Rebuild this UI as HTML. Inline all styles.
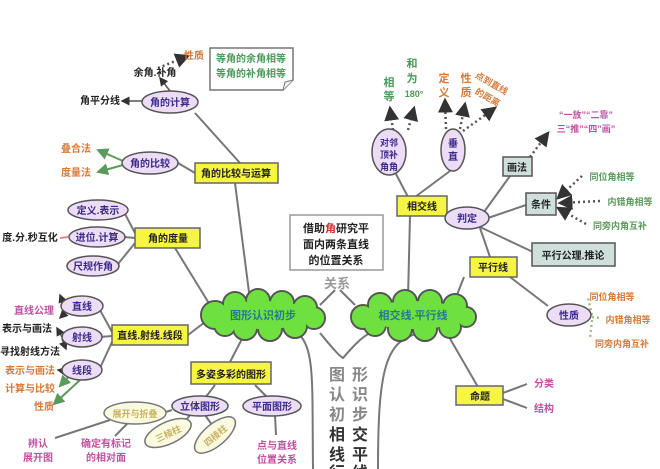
<!DOCTYPE html>
<html><head><meta charset="utf-8"><style>
html,body{margin:0;padding:0;background:#fff;}
svg{display:block;}
text{font-family:"Liberation Sans","Noto Sans CJK SC",sans-serif;font-weight:bold;}
</style></head><body>
<svg width="660" height="469" viewBox="0 0 660 469" xmlns="http://www.w3.org/2000/svg">
<defs>
<marker id="ah" markerWidth="6" markerHeight="6" refX="5" refY="3" orient="auto"><path d="M0,0 L6,3 L0,6z" fill="#333"/></marker>
<marker id="ag" markerWidth="6" markerHeight="6" refX="5" refY="3" orient="auto"><path d="M0,0 L6,3 L0,6z" fill="#5a9a5a"/></marker>
</defs>
<rect width="660" height="469" fill="#fff"/>
<g stroke="#777" stroke-width="2" fill="none">
<!-- left tree lines -->
<line x1="195" y1="113" x2="240" y2="163"/>
<line x1="235" y1="183" x2="250" y2="300"/>
<line x1="178" y1="163" x2="195" y2="173"/>
<line x1="175" y1="248" x2="210" y2="305"/>
<line x1="124" y1="212" x2="135" y2="233"/>
<line x1="124" y1="237" x2="135" y2="238"/>
<line x1="118" y1="264" x2="135" y2="243"/>
<line x1="188" y1="335" x2="205" y2="322"/>
<line x1="100" y1="310" x2="112" y2="332"/>
<line x1="100" y1="337" x2="112" y2="336"/>
<line x1="100" y1="368" x2="112" y2="342"/>
<line x1="230" y1="362" x2="245" y2="333"/>
<line x1="215" y1="385" x2="205" y2="398"/>
<line x1="255" y1="385" x2="268" y2="398"/>
<line x1="172" y1="410" x2="166" y2="412"/>
<line x1="190" y1="415" x2="180" y2="428"/>
<line x1="205" y1="415" x2="212" y2="425"/>
<line x1="275" y1="415" x2="276" y2="435"/>
<line x1="110" y1="420" x2="55" y2="438"/>
<line x1="128" y1="423" x2="115" y2="436"/>
<!-- right -->
<line x1="410" y1="216" x2="408" y2="298"/>
<line x1="408" y1="197" x2="396" y2="174"/>
<line x1="415" y1="197" x2="450" y2="171"/>
<line x1="490" y1="257" x2="480" y2="228"/>
<line x1="484" y1="212" x2="510" y2="176"/>
<line x1="488" y1="218" x2="526" y2="205"/>
<line x1="480" y1="227" x2="533" y2="252"/>
<line x1="464" y1="277" x2="455" y2="300"/>
<line x1="510" y1="277" x2="548" y2="306"/>
<line x1="445" y1="330" x2="478" y2="387"/>
<line x1="503" y1="393" x2="527" y2="384"/>
<line x1="503" y1="399" x2="527" y2="408"/>
<!-- relation -->
<line x1="320" y1="305" x2="335" y2="290"/>
<line x1="355" y1="305" x2="340" y2="290"/>
<!-- big trunk curves -->
<path d="M298 333 C315 350,312 380,313 469"/>
<path d="M420 333 C385 340,378 370,378 469"/>
<path d="M320 333 C330 345,338 355,343 358 C350 350,360 338,370 333"/>
</g>
<!-- dotted arrows -->
<g stroke="#555" stroke-width="2.5" stroke-dasharray="2,3" fill="none">
<line x1="158" y1="68" x2="188" y2="56" marker-end="url(#ah)"/>
<line x1="393" y1="130" x2="390" y2="108" marker-end="url(#ah)"/>
<line x1="408" y1="130" x2="414" y2="108" marker-end="url(#ah)"/>
<line x1="446" y1="129" x2="445" y2="100" marker-end="url(#ah)"/>
<line x1="460" y1="129" x2="465" y2="104" marker-end="url(#ah)"/>
<line x1="463" y1="131" x2="495" y2="108" marker-end="url(#ah)"/>
<line x1="530" y1="157" x2="548" y2="133" marker-end="url(#ah)"/>
<line x1="582" y1="176" x2="558" y2="198" marker-end="url(#ah)"/>
<line x1="600" y1="201" x2="560" y2="203" marker-end="url(#ah)"/>
<line x1="586" y1="224" x2="558" y2="208" marker-end="url(#ah)"/>
</g>
<g stroke="#a8b88a" stroke-width="2.5" stroke-dasharray="2,3" fill="none">
<line x1="592" y1="315" x2="588" y2="298"/>
<line x1="592" y1="317" x2="600" y2="318"/>
<line x1="592" y1="320" x2="590" y2="338"/>
</g>
<g stroke="#555" stroke-width="1.5" fill="none">
<line x1="170" y1="91" x2="160" y2="78" marker-end="url(#ah)"/>
<line x1="142" y1="101" x2="122" y2="101" marker-end="url(#ah)"/>
<line x1="62" y1="300" x2="60" y2="295" marker-end="url(#ah)"/>
<line x1="66" y1="312" x2="60" y2="318" marker-end="url(#ah)"/>
<line x1="62" y1="337" x2="57" y2="328" marker-end="url(#ah)"/>
<line x1="62" y1="339" x2="66" y2="349" marker-end="url(#ah)"/>
<line x1="64" y1="371" x2="58" y2="370" marker-end="url(#ah)"/>
</g>
<g stroke="#5a9a5a" stroke-width="2" fill="none">
<line x1="123" y1="161" x2="98" y2="150" marker-end="url(#ag)"/>
<line x1="123" y1="165" x2="98" y2="172" marker-end="url(#ag)"/>
<line x1="70" y1="375" x2="60" y2="386" marker-end="url(#ag)"/>
<line x1="80" y1="380" x2="54" y2="404" marker-end="url(#ag)"/>
<line x1="68" y1="237" x2="60" y2="238" stroke="#d88" />
</g>
<!-- note box -->
<path d="M210 48 H293 V80 L283 90 H210 Z" fill="#fff" stroke="#777" stroke-width="1.5"/>
<path d="M283 90 L285 82 L293 80" fill="#eee" stroke="#777"/>
<text x="251" y="62" font-size="10" fill="#4a9a5a" text-anchor="middle">等角的余角相等</text>
<text x="251" y="77" font-size="10" fill="#4a9a5a" text-anchor="middle">等角的补角相等</text>
<!-- yellow boxes -->
<g fill="#f5f542" stroke="#666" stroke-width="1.5">
<rect x="195" y="163" width="83" height="20"/>
<rect x="135" y="228" width="65" height="20"/>
<rect x="112" y="325" width="76" height="20"/>
<rect x="191" y="362" width="80" height="22"/>
<rect x="397" y="196" width="50" height="20"/>
<rect x="470" y="257" width="47" height="20"/>
<rect x="456" y="386" width="47" height="19"/>
</g>
<g fill="#cfe0dc" stroke="#555" stroke-width="1.5">
<rect x="503" y="157" width="29" height="19"/>
<rect x="526" y="193" width="30" height="22"/>
<rect x="532" y="243" width="83" height="23"/>
</g>
<rect x="290" y="215" width="93" height="55" fill="#fff" stroke="#999" stroke-width="1.5"/>
<!-- purple ellipses -->
<g fill="#ecdcf6" stroke="#555" stroke-width="1.5">
<ellipse cx="170" cy="102" rx="28" ry="11"/>
<ellipse cx="150" cy="163" rx="28" ry="11"/>
<ellipse cx="98" cy="210" rx="30" ry="10"/>
<ellipse cx="97" cy="237" rx="28" ry="10"/>
<ellipse cx="93" cy="266" rx="26" ry="10"/>
<ellipse cx="82" cy="306" rx="21" ry="10"/>
<ellipse cx="82" cy="337" rx="20" ry="10"/>
<ellipse cx="82" cy="370" rx="20" ry="10"/>
<ellipse cx="200" cy="406" rx="28" ry="10"/>
<ellipse cx="272" cy="406" rx="29" ry="10"/>
<ellipse cx="389" cy="152" rx="17" ry="23"/>
<ellipse cx="453" cy="150" rx="12" ry="21"/>
<ellipse cx="467" cy="218" rx="22" ry="11"/>
<ellipse cx="569" cy="315" rx="22" ry="11"/>
</g>
<g fill="#fafae0" stroke="#777" stroke-width="1.5">
<ellipse cx="135" cy="413" rx="31" ry="11"/>
<ellipse cx="168" cy="433" rx="25" ry="11" transform="rotate(-25 168 433)"/>
<ellipse cx="215" cy="435" rx="25" ry="11" transform="rotate(-40 215 435)"/>
</g>
<!-- clouds -->
<g stroke="#555" stroke-width="2" fill="#6ee040">
<circle cx="215" cy="315" r="14"/><circle cx="235" cy="304" r="12"/><circle cx="258" cy="301" r="12"/><circle cx="282" cy="303" r="12"/><circle cx="305" cy="308" r="12"/><circle cx="314" cy="318" r="11"/><circle cx="295" cy="326" r="12"/><circle cx="270" cy="329" r="12"/><circle cx="245" cy="328" r="12"/><circle cx="225" cy="325" r="11"/>
<circle cx="363" cy="317" r="12"/><circle cx="380" cy="305" r="12"/><circle cx="405" cy="302" r="12"/><circle cx="430" cy="302" r="12"/><circle cx="455" cy="306" r="12"/><circle cx="466" cy="317" r="10"/><circle cx="450" cy="327" r="11"/><circle cx="425" cy="329" r="12"/><circle cx="400" cy="329" r="12"/><circle cx="375" cy="325" r="11"/>
</g>
<g fill="#6ee040">
<circle cx="215" cy="315" r="13"/><circle cx="235" cy="304" r="11"/><circle cx="258" cy="301" r="11"/><circle cx="282" cy="303" r="11"/><circle cx="305" cy="308" r="11"/><circle cx="314" cy="318" r="10"/><circle cx="295" cy="326" r="11"/><circle cx="270" cy="329" r="11"/><circle cx="245" cy="328" r="11"/><circle cx="225" cy="325" r="10"/>
<ellipse cx="264" cy="315" rx="50" ry="14"/>
<circle cx="363" cy="317" r="11"/><circle cx="380" cy="305" r="11"/><circle cx="405" cy="302" r="11"/><circle cx="430" cy="302" r="11"/><circle cx="455" cy="306" r="11"/><circle cx="466" cy="317" r="9"/><circle cx="450" cy="327" r="10"/><circle cx="425" cy="329" r="11"/><circle cx="400" cy="329" r="11"/><circle cx="375" cy="325" r="10"/>
<ellipse cx="414" cy="315" rx="50" ry="14"/>
</g>
<text x="263" y="319" font-size="11" fill="#2a7a8a" text-anchor="middle" font-weight="normal">图形认识初步</text>
<text x="413" y="319" font-size="11" fill="#2a7a8a" text-anchor="middle" font-weight="normal">相交线.平行线</text>
<!-- texts -->
<g font-size="10" text-anchor="middle">
<text x="194" y="59" fill="#d47a3a">性质</text>
<text x="155" y="76" fill="#222">余角.补角</text>
<text x="100" y="104" fill="#222">角平分线</text>
<text x="170" y="106" fill="#3a2a8a">角的计算</text>
<text x="150" y="167" fill="#3a2a8a">角的比较</text>
<text x="76" y="152" fill="#d47a3a">叠合法</text>
<text x="76" y="176" fill="#d47a3a">度量法</text>
<text x="236" y="177" fill="#222">角的比较与运算</text>
<text x="98" y="214" fill="#3a2a8a">定义.表示</text>
<text x="97" y="241" fill="#3a2a8a">进位.计算</text>
<text x="93" y="270" fill="#3a2a8a">尺规作角</text>
<text x="168" y="242" fill="#222">角的度量</text>
<text x="30" y="241" fill="#222">度.分.秒互化</text>
<text x="82" y="310" fill="#3a2a8a">直线</text>
<text x="82" y="341" fill="#3a2a8a">射线</text>
<text x="82" y="374" fill="#3a2a8a">线段</text>
<text x="150" y="339" fill="#222">直线.射线.线段</text>
<text x="34" y="314" fill="#c050a0">直线公理</text>
<text x="27" y="332" fill="#222">表示与画法</text>
<text x="30" y="355" fill="#222">寻找射线方法</text>
<text x="30" y="374" fill="#d47a3a">表示与画法</text>
<text x="30" y="392" fill="#d47a3a">计算与比较</text>
<text x="44" y="410" fill="#d47a3a">性质</text>
<text x="231" y="378" fill="#222">多姿多彩的图形</text>
<text x="200" y="410" fill="#3a2a8a">立体图形</text>
<text x="272" y="410" fill="#3a2a8a">平面图形</text>
<text x="135" y="417" fill="#c8b060" font-size="9">展开与折叠</text>
<text x="168" y="437" fill="#c8b060" font-size="9" transform="rotate(-25 168 433)">三棱柱</text>
<text x="215" y="439" fill="#c8b060" font-size="9" transform="rotate(-40 215 435)">四棱柱</text>
<text x="38" y="447" fill="#c050a0">辨认</text>
<text x="38" y="461" fill="#c050a0">展开图</text>
<text x="106" y="447" fill="#c050a0">确定有标记</text>
<text x="106" y="461" fill="#c050a0">的相对面</text>
<text x="277" y="449" fill="#c050a0">点与直线</text>
<text x="277" y="463" fill="#c050a0">位置关系</text>
<text x="336" y="232" fill="#222" font-size="11">借助<tspan fill="#d03030">角</tspan>研究平</text>
<text x="336" y="248" fill="#222" font-size="11">面内两条直线</text>
<text x="336" y="264" fill="#222" font-size="11">的位置关系</text>
<text x="337" y="288" fill="#999" font-size="13" font-weight="normal">关系</text>
<text x="422" y="210" fill="#222">相交线</text>
<text x="493" y="271" fill="#222">平行线</text>
<text x="480" y="400" fill="#222">命题</text>
<text x="517" y="171" fill="#222">画法</text>
<text x="541" y="208" fill="#222">条件</text>
<text x="573" y="259" fill="#222">平行公理.推论</text>
<text x="467" y="222" fill="#3a2a8a">判定</text>
<text x="569" y="319" fill="#3a2a8a">性质</text>
<text x="544" y="387" fill="#c050a0">分类</text>
<text x="544" y="412" fill="#c050a0">结构</text>
<text x="612" y="180" fill="#5a9a5a" font-size="9">同位角相等</text>
<text x="630" y="205" fill="#5a9a5a" font-size="9">内错角相等</text>
<text x="620" y="229" fill="#5a9a5a" font-size="9">同旁内角互补</text>
<text x="612" y="300" fill="#d47a3a" font-size="9">同位角相等</text>
<text x="628" y="323" fill="#d47a3a" font-size="9">内错角相等</text>
<text x="622" y="347" fill="#d47a3a" font-size="9">同旁内角互补</text>
<text x="586" y="118" fill="#c050a0" font-size="9">“一放”“二靠”</text>
<text x="586" y="132" fill="#c050a0" font-size="9">三“推”“四”画”</text>
<text x="389" y="146" fill="#3a2a8a" font-size="9">对邻</text>
<text x="389" y="158" fill="#3a2a8a" font-size="9">顶补</text>
<text x="389" y="170" fill="#3a2a8a" font-size="9">角角</text>
<text x="453" y="147" fill="#3a2a8a">垂</text>
<text x="453" y="160" fill="#3a2a8a">直</text>
<text x="389" y="86" fill="#4a9a5a" font-size="11">相</text>
<text x="389" y="100" fill="#4a9a5a" font-size="11">等</text>
<text x="412" y="67" fill="#4a9a5a" font-size="11">和</text>
<text x="412" y="82" fill="#4a9a5a" font-size="11">为</text>
<text x="414" y="97" fill="#4a9a5a" font-size="9" font-weight="normal">180°</text>
<text x="444" y="82" fill="#d47a3a" font-size="11">定</text>
<text x="444" y="96" fill="#d47a3a" font-size="11">义</text>
<text x="466" y="82" fill="#d47a3a" font-size="11">性</text>
<text x="466" y="96" fill="#d47a3a" font-size="11">质</text>
<text x="490" y="86" fill="#d47a3a" font-size="9" transform="rotate(30 490 86)">点到直线</text>
<text x="486" y="100" fill="#d47a3a" font-size="9" transform="rotate(30 486 100)">的距离</text>
</g>
<g font-size="16" text-anchor="middle" font-weight="normal">
<text x="337" y="380" fill="#888">图</text><text x="360" y="380" fill="#888">形</text>
<text x="337" y="400" fill="#888">认</text><text x="360" y="400" fill="#888">识</text>
<text x="337" y="420" fill="#888">初</text><text x="360" y="420" fill="#888">步</text>
<text x="337" y="440" fill="#333">相</text><text x="360" y="440" fill="#333">交</text>
<text x="337" y="460" fill="#333">线</text><text x="360" y="460" fill="#333">平</text>
<text x="337" y="478" fill="#333">行</text><text x="360" y="478" fill="#333">线</text>
</g>
</svg>
</body></html>
